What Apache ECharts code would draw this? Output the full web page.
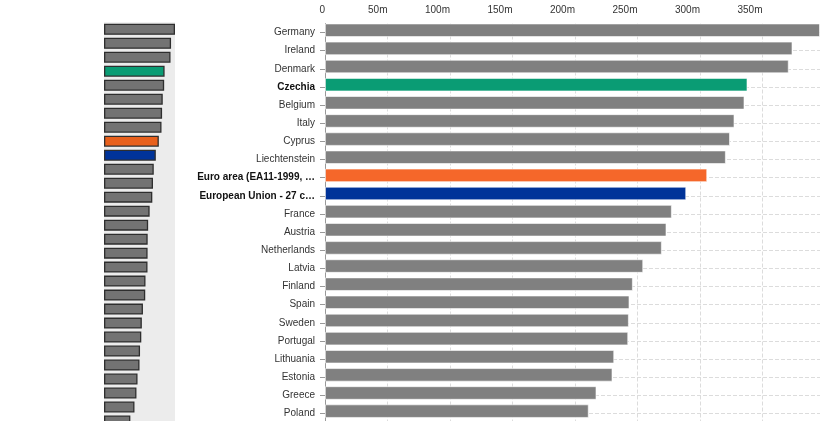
<!DOCTYPE html>
<html><head><meta charset="utf-8">
<script src="https://cdn.jsdelivr.net/npm/echarts@6/dist/echarts.min.js"></script>
<style>html,body{margin:0;padding:0;background:#fff}#c{width:825px;height:421px}</style>
</head><body><div id="c"></div>
<script>
const categories = [
  'Germany', 'Ireland', 'Denmark', 'Czechia', 'Belgium', 'Italy', 'Cyprus', 'Liechtenstein',
  'Euro area (EA11-1999, EA12-2001, EA13-2007, EA15-2008, EA16-2009, EA17-2011, EA18-2014, EA19-2015, EA20-2023)',
  'European Union - 27 countries (from 2020)',
  'France', 'Austria', 'Netherlands', 'Latvia', 'Finland', 'Spain', 'Sweden', 'Portugal',
  'Lithuania', 'Estonia', 'Greece', 'Poland'
];
const values = [396, 374, 371, 338, 335.6, 327.6, 324, 320.7, 305.8, 289, 277.5, 273.2, 269.5,
  254.6, 246.3, 243.6, 243.1, 242.6, 231.4, 230, 217.2, 211];
// further (off-screen) rows only visible in the overview strip
const moreValues = [208, 201, 198, 187, 181, 170, 147];
const tickLabels = ['0', '50m', '100m', '150m', '200m', '250m', '300m', '350m'];

const mainColors = { 'Czechia': '#0a9c74', 'Euro area': '#f5672a', 'European Union': '#003399' };
const thumbColors = { 'Czechia': '#0a9c74', 'Euro area': '#e8601c', 'European Union': '#003399' };
function colorFor(name, map, dflt) {
  for (const k in map) if (name.indexOf(k) === 0) return map[k];
  return dflt;
}
const boldNames = ['Czechia', 'Euro area', 'European Union'];

const chart = echarts.init(document.getElementById('c'));
const font = 'Liberation Sans, Arial, sans-serif';
const allValues = values.concat(moreValues);

chart.setOption({
  animation: false,
  textStyle: { fontFamily: font },
  grid: [
    { left: 325, right: 5, top: 23.5, bottom: -1.5, outerBoundsMode: 'none' },
    { left: 104, width: 71, top: 22.3, bottom: -7, show: true, backgroundColor: '#ececec', borderWidth: 0, outerBoundsMode: 'none' }
  ],
  xAxis: [
    {
      type: 'value', gridIndex: 0, position: 'top', min: 0, max: values[0], interval: 50,
      axisLine: { show: false }, axisTick: { show: false },
      axisLabel: {
        align: 'right', margin: 8.5, fontSize: 10, color: '#333', showMaxLabel: false,
        formatter: v => (v % 50 === 0 ? tickLabels[v / 50] || '' : '')
      },
      splitLine: { show: true, showMaxLine: false, lineStyle: { type: 'dashed', color: '#dcdcdc' } }
    },
    { type: 'value', gridIndex: 1, min: 0, max: values[0], show: false }
  ],
  yAxis: [
    {
      type: 'category', gridIndex: 0, inverse: true,
      data: categories.map(n => boldNames.some(b => n.indexOf(b) === 0)
        ? { value: n, textStyle: { fontWeight: 'bold', color: '#111' } } : n),
      axisLine: { show: true, lineStyle: { color: '#999' } },
      axisTick: { show: true, alignWithLabel: true, length: 5, lineStyle: { color: '#999' } },
      axisLabel: { margin: 10, fontSize: 10, color: '#333', width: 121, overflow: 'truncate', ellipsis: '…' },
      splitLine: { show: true, alignWithLabel: true, lineStyle: { type: 'dashed', color: '#dcdcdc' } }
    },
    { type: 'category', gridIndex: 1, inverse: true, data: allValues.map((v, i) => String(i)), show: false }
  ],
  series: [
    {
      type: 'bar', xAxisIndex: 0, yAxisIndex: 0, barWidth: 13.6, barGap: '0%',
      data: values.map((v, i) => ({
        value: v,
        itemStyle: { color: colorFor(categories[i], mainColors, '#808080'), borderColor: 'rgba(255,255,255,0.6)', borderWidth: 1 }
      }))
    },
    {
      type: 'bar', xAxisIndex: 0, yAxisIndex: 0, barWidth: 4.6, silent: true,
      data: values.map(() => 0), itemStyle: { color: 'rgba(0,0,0,0)', borderWidth: 0 }
    },
    {
      type: 'bar', xAxisIndex: 1, yAxisIndex: 1, barWidth: 11, silent: true,
      data: allValues.map((v, i) => ({
        value: v,
        itemStyle: { color: colorFor(categories[i] || '', thumbColors, '#737373'), borderColor: '#2e2e2e', borderWidth: 1.3 }
      }))
    }
  ]
});
</script>
</body></html>
